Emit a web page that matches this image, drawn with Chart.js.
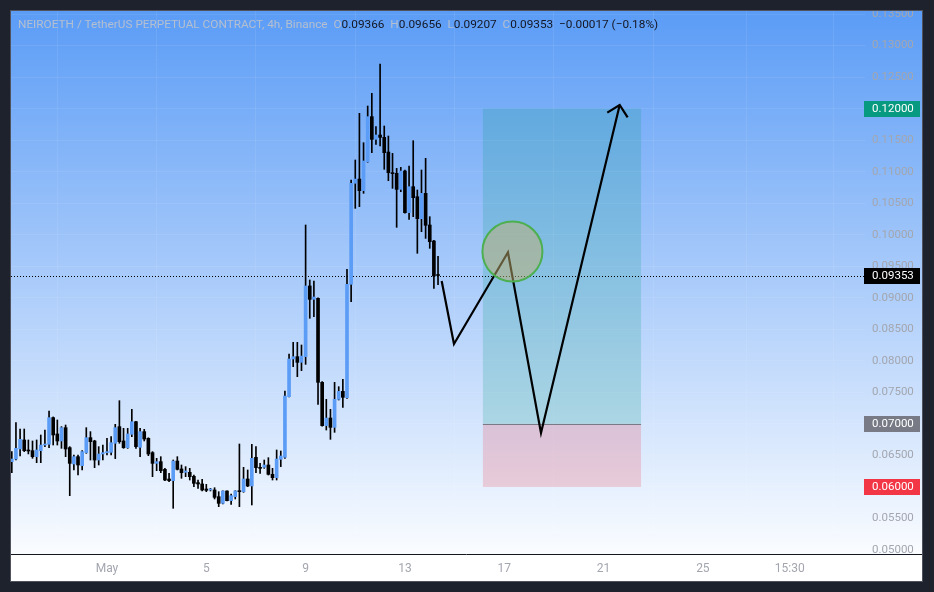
<!DOCTYPE html>
<html>
<head>
<meta charset="utf-8">
<script src="https://cdn.jsdelivr.net/npm/chart.js@4.4.1/dist/chart.umd.min.js"></script>
<style>
  body { margin: 0; background: #1e222d; width: 934px; height: 592px; overflow: hidden; font-family: Roboto, sans-serif; }
  #panel { position: absolute; left: 10px; top: 10px; width: 911px; height: 570px; border: 1px solid #50535e; background: #fff; }
  #legend { position: absolute; left: 7px; top: 6px; font-size: 11.8px; white-space: nowrap; color: #b4bfd0; }
  #legend b { font-weight: normal; color: #131722; }
</style>
</head>
<body>
<div id="panel">
  <canvas id="chart" width="911" height="570"></canvas>
  <div id="legend">NEIROETH / TetherUS PERPETUAL CONTRACT, 4h, Binance&nbsp; O<b>0.09366</b>&nbsp; H<b>0.09656</b>&nbsp; L<b>0.09207</b>&nbsp; C<b>0.09353</b>&nbsp; <b>−0.00017 (−0.18%)</b></div>
</div>
<script>
// 4h candles, first one on Apr 27 04:00 (x axis unit = days from May 1)
const firstCandle = -23; // in 4h steps from May 1 00:00
const opens = [0.06401,0.06443,0.06602,0.06745,0.06586,0.06575,0.06480,0.06575,0.06665,0.06676,
  0.07099,0.06840,0.06729,0.06940,0.06623,0.06364,0.06480,0.06337,0.06544,0.06782,
  0.06729,0.06427,0.06523,0.06544,0.06549,0.06692,0.06956,0.06729,0.06623,0.06834,
  0.07035,0.06628,0.06877,0.06771,0.06544,0.06374,0.06401,0.06279,0.06126,0.06100,
  0.06411,0.06285,0.06232,0.06232,0.06168,0.06068,0.06047,0.05967,0.05952,0.05952,
  0.05846,0.05740,0.05936,0.05782,0.05846,0.05936,0.05925,0.06126,0.06015,0.06470,
  0.06311,0.06311,0.06348,0.06200,0.06147,0.06438,0.06470,0.07432,0.08029,0.08066,
  0.07976,0.08066,0.09187,0.08975,0.08991,0.07659,0.06972,0.07093,0.06945,0.07389,
  0.07516,0.07416,0.09213,0.10815,0.10883,0.10698,0.11158,0.11872,0.11512,0.11581,
  0.11544,0.11311,0.10984,0.10973,0.10719,0.11010,0.10349,0.10762,0.10603,0.10254,
  0.10656,0.10154,0.09900,0.09366];
const highs = [0.06560,0.07019,0.06919,0.06919,0.06745,0.06729,0.06745,0.06824,0.06903,0.07204,
  0.07110,0.07062,0.06956,0.06982,0.06639,0.06507,0.06507,0.06575,0.06940,0.06877,
  0.06740,0.06639,0.06665,0.06771,0.06797,0.06993,0.07368,0.06929,0.06929,0.07231,
  0.07040,0.06929,0.06914,0.06780,0.06560,0.06454,0.06480,0.06295,0.06216,0.06427,
  0.06480,0.06348,0.06322,0.06295,0.06189,0.06110,0.06121,0.06041,0.05978,0.05988,
  0.05925,0.05940,0.05940,0.05888,0.05940,0.06681,0.06311,0.06269,0.06676,0.06639,
  0.06374,0.06427,0.06464,0.06295,0.06586,0.06570,0.07522,0.08108,0.08293,0.08293,
  0.08251,0.10154,0.09282,0.09266,0.09000,0.07670,0.07389,0.07231,0.07659,0.07590,
  0.07707,0.09451,0.10867,0.11185,0.11925,0.11459,0.12041,0.12242,0.11713,0.12707,
  0.11724,0.11565,0.11290,0.11052,0.11068,0.11026,0.11089,0.11491,0.10709,0.11026,
  0.11211,0.10286,0.09910,0.09656];
const lows = [0.06226,0.06427,0.06491,0.06560,0.06523,0.06454,0.06385,0.06385,0.06639,0.06623,
  0.06665,0.06665,0.06612,0.06480,0.05862,0.06269,0.06189,0.06269,0.06533,0.06427,
  0.06306,0.06348,0.06427,0.06507,0.06507,0.06449,0.06692,0.06612,0.06612,0.06797,
  0.06612,0.06480,0.06729,0.06496,0.06163,0.06258,0.06226,0.06100,0.06084,0.05661,
  0.06269,0.06137,0.06163,0.06110,0.06004,0.05978,0.05936,0.05925,0.05936,0.05809,
  0.05687,0.05730,0.05777,0.05724,0.05809,0.05687,0.05915,0.06004,0.05714,0.06226,
  0.06216,0.06295,0.06189,0.06110,0.06110,0.06322,0.06454,0.07427,0.07907,0.07749,
  0.07844,0.07944,0.08674,0.08700,0.07310,0.06962,0.06903,0.06755,0.06866,0.07379,
  0.07262,0.07405,0.08938,0.10418,0.10445,0.10656,0.11150,0.11301,0.11433,0.11407,
  0.11037,0.10857,0.10735,0.10117,0.10682,0.10340,0.10244,0.10286,0.09705,0.10048,
  0.09942,0.09784,0.09150,0.09207];
const closes = [0.06443,0.06612,0.06755,0.06575,0.06570,0.06480,0.06586,0.06665,0.06681,0.07099,
  0.06824,0.06729,0.06940,0.06602,0.06374,0.06480,0.06348,0.06560,0.06782,0.06718,
  0.06427,0.06523,0.06544,0.06560,0.06702,0.06940,0.06718,0.06623,0.06840,0.07035,
  0.06639,0.06877,0.06760,0.06523,0.06374,0.06401,0.06258,0.06110,0.06100,0.06411,
  0.06279,0.06226,0.06253,0.06163,0.06057,0.06047,0.05952,0.05946,0.05962,0.05835,
  0.05740,0.05936,0.05782,0.05862,0.05936,0.05925,0.06126,0.06015,0.06454,0.06306,
  0.06295,0.06348,0.06200,0.06147,0.06443,0.06491,0.07442,0.08029,0.08066,0.07976,
  0.08076,0.09187,0.08975,0.09012,0.07659,0.06972,0.07093,0.06945,0.07389,0.07516,
  0.07421,0.09213,0.10815,0.10883,0.10698,0.11169,0.11872,0.11512,0.11581,0.11544,
  0.11301,0.10984,0.10968,0.10719,0.11010,0.10349,0.10762,0.10587,0.10254,0.10656,
  0.10149,0.09889,0.09345,0.09353];
const lastPrice = 0.09353;

// axes
const yTicks = [0.05,0.055,0.06,0.065,0.07,0.075,0.08,0.085,0.09,0.095,0.10,0.105,0.11,0.115,0.12,0.125,0.13,0.135];
const xTickVals = [0, 4, 8, 12, 16, 20, 24, 27.5];
const xTickLabels = ['May', '5', '9', '13', '17', '21', '25', '15:30'];

// long position tool
const posStart = 15.14, posEnd = 21.51;
const posTarget = 0.12, posEntry = 0.07, posStop = 0.06;

// drawn path + arrow head
const pathX = [13.48, 13.975, 16.15, 17.48, 20.65];
const pathY = [0.09266, 0.08267, 0.09721, 0.06856, 0.12057];
const arrowX = [20.15, 20.65, 20.97];
const arrowY = [0.11935, 0.12057, 0.11862];
const circleX = 16.33, circleY = 0.09734;

const upColor = '#5b9cf6', downColor = '#000000';
const candleX = opens.map((_, i) => (firstCandle + i) / 6);

const wicks = candleX.map((x, i) => ({ x: x, y: [lows[i], highs[i]] }));
const bodies = candleX.map((x, i) => ({ x: x, y: [opens[i], closes[i]] }));
const bodyColors = opens.map((o, i) => closes[i] >= o ? upColor : downColor);

const labelFont = '11.5px Roboto';

const decor = {
  id: 'decor',
  beforeDraw(chart) {
    const { ctx, chartArea, width, height } = chart;
    const g = ctx.createLinearGradient(0, 0, 0, chartArea.bottom);
    g.addColorStop(0, '#5b9cf6');
    g.addColorStop(1, '#fafcff');
    ctx.save();
    ctx.fillStyle = g;
    ctx.fillRect(0, 0, width, chartArea.bottom);
    ctx.fillStyle = '#ffffff';
    ctx.fillRect(0, chartArea.bottom, width, height - chartArea.bottom);
    ctx.restore();
  },
  beforeDatasetsDraw(chart) {
    const { ctx, chartArea, scales: { x, y } } = chart;
    const x0 = x.getPixelForValue(posStart), x1 = x.getPixelForValue(posEnd);
    const yT = y.getPixelForValue(posTarget), yE = y.getPixelForValue(posEntry), yS = y.getPixelForValue(posStop);
    ctx.save();
    ctx.fillStyle = 'rgba(8,153,129,0.2)';
    ctx.fillRect(x0, yT, x1 - x0, yE - yT);
    ctx.fillStyle = 'rgba(242,54,69,0.2)';
    ctx.fillRect(x0, yE, x1 - x0, yS - yE);
    ctx.strokeStyle = '#787b86';
    ctx.lineWidth = 1;
    ctx.beginPath();
    ctx.moveTo(x0, Math.round(yE) + 0.5);
    ctx.lineTo(x1, Math.round(yE) + 0.5);
    ctx.stroke();
    // last price line
    const yl = Math.round(y.getPixelForValue(lastPrice)) + 0.5;
    ctx.strokeStyle = '#000';
    ctx.setLineDash([1, 2]);
    ctx.beginPath();
    ctx.moveTo(chartArea.left, yl);
    ctx.lineTo(chartArea.right, yl);
    ctx.stroke();
    ctx.restore();
  },
  afterDraw(chart) {
    const { ctx, chartArea, width, scales: { y } } = chart;
    ctx.save();
    ctx.strokeStyle = '#131722';
    ctx.lineWidth = 1;
    ctx.beginPath();
    ctx.moveTo(0, chartArea.bottom + 0.5);
    ctx.lineTo(width, chartArea.bottom + 0.5);
    ctx.stroke();
    const boxes = [[posTarget, '#089981'], [lastPrice, '#000000'], [posEntry, '#787b86'], [posStop, '#f23645']];
    ctx.font = labelFont;
    ctx.textBaseline = 'middle';
    boxes.forEach(([v, c]) => {
      const py = y.getPixelForValue(v);
      ctx.fillStyle = c;
      ctx.fillRect(chartArea.right - 1, Math.round(py) - 8, 56, 16);
      ctx.fillStyle = '#ffffff';
      ctx.fillText(v.toFixed(5), chartArea.right + 7, py + 0.5);
    });
    ctx.restore();
  }
};

new Chart(document.getElementById('chart'), {
  type: 'bar',
  data: {
    datasets: [
      { type: 'bubble', data: [{ x: circleX, y: circleY, r: 30 }], backgroundColor: 'rgba(192,176,112,0.5)', borderColor: '#4caf50', borderWidth: 2, order: 0 },
      { type: 'line', data: arrowX.map((x, i) => ({ x: x, y: arrowY[i] })), borderColor: '#000', borderWidth: 2.2, pointRadius: 0, tension: 0, order: 1 },
      { type: 'line', data: pathX.map((x, i) => ({ x: x, y: pathY[i] })), borderColor: '#000', borderWidth: 2.2, pointRadius: 0, tension: 0, order: 1 },
      { data: bodies, backgroundColor: bodyColors, barThickness: 3, minBarLength: 1, grouped: false, borderWidth: 0, order: 2 },
      { data: wicks, backgroundColor: '#000', barThickness: 1, grouped: false, borderWidth: 0, order: 3 }
    ]
  },
  options: {
    responsive: false,
    animation: false,
    events: [],
    layout: { padding: 0, autoPadding: false },
    plugins: { legend: { display: false }, tooltip: { enabled: false } },
    scales: {
      x: {
        type: 'linear',
        min: -3.866,
        max: 30.53,
        offset: false,
        afterFit(scale) { scale.height = 27; scale.paddingLeft = 0; scale.paddingRight = 0; },
        afterBuildTicks(scale) { scale.ticks = xTickVals.map(v => ({ value: v })); },
        grid: { color: 'rgba(255,255,255,0.08)', drawTicks: false },
        border: { display: false },
        ticks: {
          autoSkip: false, maxRotation: 0, padding: 8,
          color: '#a3a6af', font: { family: 'Roboto', size: 12 },
          callback: (v, i) => xTickLabels[i]
        }
      },
      y: {
        type: 'linear',
        position: 'right',
        min: 0.049366,
        max: 0.135476,
        afterFit(scale) { scale.width = 57; scale.paddingTop = 0; scale.paddingBottom = 0; },
        afterBuildTicks(scale) { scale.ticks = yTicks.map(v => ({ value: v })); },
        grid: { color: 'rgba(255,255,255,0.08)', drawTicks: false },
        border: { display: false },
        ticks: {
          padding: 7, color: '#a3a6af', font: { family: 'Roboto', size: 11.5 },
          callback: v => v.toFixed(5)
        }
      }
    }
  },
  plugins: [decor]
});
</script>
</body>
</html>
